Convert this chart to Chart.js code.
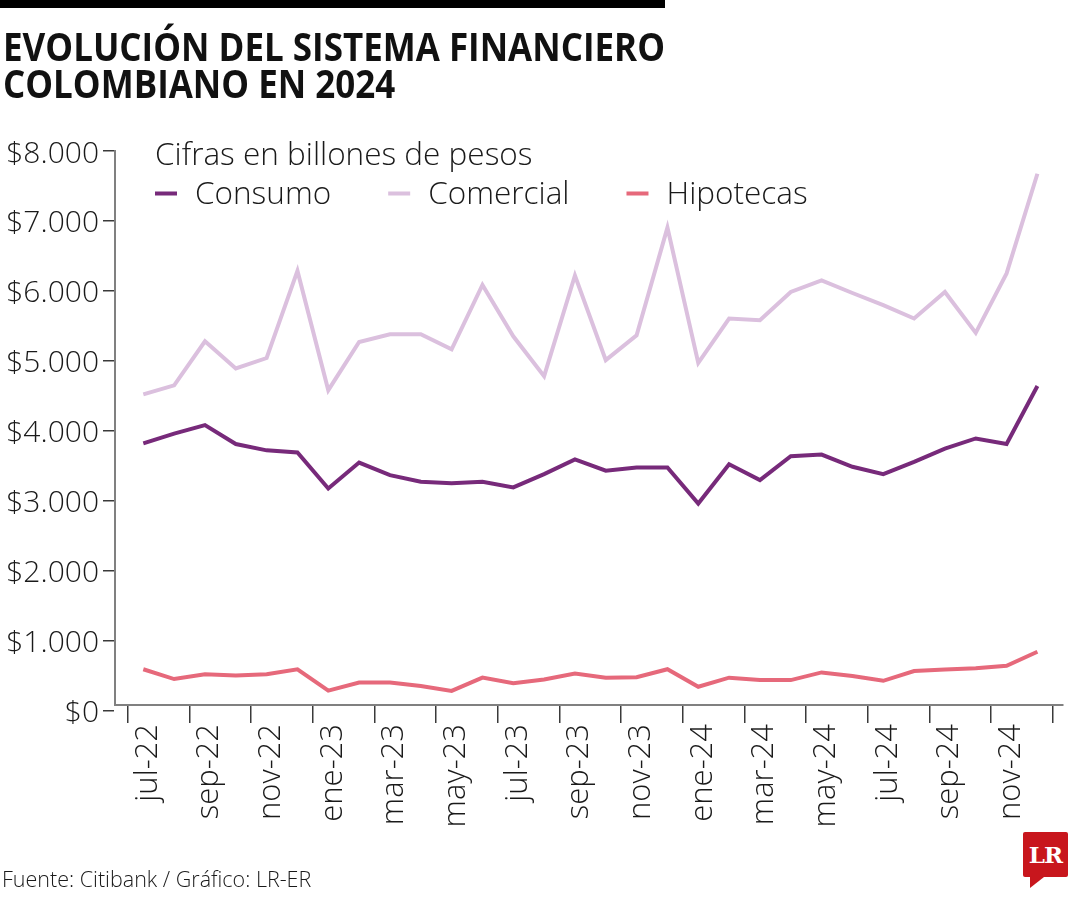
<!DOCTYPE html>
<html>
<head>
<meta charset="utf-8">
<script src="https://cdn.jsdelivr.net/npm/chart.js@4.4.1/dist/chart.umd.min.js"></script>
<style>
html,body{margin:0;padding:0;background:#fff;}
#wrap{position:relative;width:1080px;height:900px;overflow:hidden;background:#fff;}
#c{position:absolute;left:0;top:0;}
#bar{position:absolute;left:0;top:0;width:665px;height:8px;background:#000;}
#title{position:absolute;left:3px;top:27px;font-family:'Open Sans',sans-serif;font-weight:700;font-size:40px;line-height:37px;color:#111;white-space:nowrap;transform-origin:0 0;}
#title span{display:inline-block;}
#source{position:absolute;left:2px;top:868px;font-family:'Open Sans',sans-serif;font-weight:300;font-size:21.5px;line-height:21px;color:#1a1a1a;white-space:nowrap;}
#logo{position:absolute;left:1023px;top:832px;width:45px;height:45px;background:#c8161d;border-radius:2px;color:#fff;font-family:'DejaVu Serif','Liberation Serif',serif;font-weight:700;font-size:23px;line-height:45px;text-align:center;letter-spacing:-1px;}
#tail{position:absolute;left:1030px;top:877px;width:0;height:0;border-top:11px solid #c8161d;border-right:14px solid transparent;}
</style>
</head>
<body>
<div id="wrap">
  <canvas id="c" width="1080" height="900"></canvas>
  <div id="bar"></div>
  <div id="title"><span id="t1">EVOLUCIÓN DEL SISTEMA FINANCIERO</span><br><span id="t2">COLOMBIANO EN 2024</span></div>
  <div id="source">Fuente: Citibank / Gráfico: LR-ER</div>
  <div id="logo">LR</div>
  <div id="tail"></div>
</div>
<script>
// ---- data ----
const categories = ['jul-22','ago-22','sep-22','oct-22','nov-22','dic-22',
  'ene-23','feb-23','mar-23','abr-23','may-23','jun-23','jul-23','ago-23','sep-23','oct-23','nov-23','dic-23',
  'ene-24','feb-24','mar-24','abr-24','may-24','jun-24','jul-24','ago-24','sep-24','oct-24','nov-24','dic-24'];
const consumo = [3820,3960,4080,3810,3720,3690,3175,3545,3365,3270,3250,3270,3190,3380,3590,3430,3475,3475,
  2960,3520,3295,3635,3660,3485,3380,3555,3745,3890,3810,4640];
const comercial = [4520,4650,5280,4890,5040,6285,4580,5270,5380,5380,5165,6085,5350,4780,6220,5010,5365,6905,
  4970,5605,5580,5985,6150,5970,5795,5605,5985,5400,6250,7675];
const hipotecas = [590,450,520,500,520,590,285,400,400,350,280,470,390,445,530,470,475,590,
  340,470,435,435,545,495,425,565,585,605,640,840];
const seriesNames = ['Consumo','Comercial','Hipotecas'];
const legendTitle = 'Cifras en billones de pesos';
const yTickValues = [0,1000,2000,3000,4000,5000,6000,7000,8000];
const yTickLabels = ['$0','$1.000','$2.000','$3.000','$4.000','$5.000','$6.000','$7.000','$8.000'];

// tick marks sit on the boundary before every second month, plus the closing boundary
const xTickValues = [];
for (let i = 0; i <= categories.length; i += 2) xTickValues.push(i - 0.5);

const colors = ['#772a7a', '#dbc0de', '#e6697b'];
const seriesValues = [consumo, comercial, hipotecas];

const yFont = {family: "'Open Sans', sans-serif", weight: 300, size: 30};
const xFont = {family: "'Open Sans', sans-serif", weight: 300, size: 31};

const inlineLegend = {
  id: 'inlineLegend',
  afterDraw(chart, args, o) {
    const ctx = chart.ctx;
    ctx.save();
    ctx.font = "300 31.5px 'Open Sans', sans-serif";
    ctx.textBaseline = 'alphabetic';
    ctx.fillStyle = '#1a1a1a';
    ctx.fillText(o.title, o.x, o.titleY);
    let x = o.x;
    chart.data.datasets.forEach(ds => {
      ctx.fillStyle = ds.borderColor;
      ctx.fillRect(x, o.markerY - 2, 22, 4);
      ctx.fillStyle = '#1a1a1a';
      ctx.fillText(ds.label, x + 40, o.itemY);
      x += 40 + ctx.measureText(ds.label).width + 57;
    });
    ctx.restore();
  }
};

function fitTitle() {
  const t = document.getElementById('title');
  const w = document.getElementById('t1').getBoundingClientRect().width;
  t.style.transform = 'scaleX(' + (662 / w) + ')';
}

function draw() {
  fitTitle();
  new Chart(document.getElementById('c'), {
    type: 'line',
    data: {
      datasets: seriesNames.map((name, k) => ({
        label: name,
        data: seriesValues[k].map((v, i) => ({x: i, y: v})),
        borderColor: colors[k],
        backgroundColor: colors[k],
        borderWidth: 4,
        pointRadius: 0,
        tension: 0,
        fill: false
      }))
    },
    options: {
      responsive: false,
      animation: false,
      devicePixelRatio: 1,
      layout: {padding: {left: 0, top: 151, right: 17, bottom: 0}},
      plugins: {
        legend: {display: false},
        tooltip: {enabled: false},
        inlineLegend: {title: legendTitle, x: 155, titleY: 165, markerY: 193.5, itemY: 204}
      },
      scales: {
        x: {
          type: 'linear',
          min: -0.918,
          max: 29.83,
          afterBuildTicks: s => { s.ticks = xTickValues.map(v => ({value: v})); },
          afterFit: s => { s.height = 195; s.paddingLeft = 0; s.paddingRight = 0; },
          ticks: {
            autoSkip: false, minRotation: 90, maxRotation: 90, padding: 1, labelOffset: 20,
            font: xFont, color: '#1a1a1a',
            callback: v => {
              const i = Math.round(v + 0.5);
              return (i % 2 === 0 && categories[i] !== undefined) ? categories[i] : '';
            }
          },
          grid: {display: true, drawOnChartArea: false, drawTicks: true, tickLength: 18, color: '#3a3a3a', lineWidth: 1.5},
          border: {display: true, color: '#808080', width: 2}
        },
        y: {
          type: 'linear',
          min: 79,
          max: 8000,
          afterBuildTicks: s => { s.ticks = yTickValues.map(v => ({value: v})); },
          afterFit: s => { s.width = 115; },
          ticks: {
            padding: 4, font: yFont, color: '#1a1a1a', labelOffset: 3,
            callback: v => yTickLabels[yTickValues.indexOf(v)]
          },
          grid: {display: true, drawOnChartArea: false, drawTicks: true, tickLength: 12, color: '#3a3a3a', lineWidth: 1.5},
          border: {display: true, color: '#808080', width: 2}
        }
      }
    },
    plugins: [inlineLegend]
  });
}

if (document.fonts && document.fonts.load) {
  Promise.all([
    document.fonts.load("300 30px 'Open Sans'"),
    document.fonts.load("700 40px 'Open Sans'")
  ]).then(draw, draw);
} else {
  draw();
}
</script>
</body>
</html>
